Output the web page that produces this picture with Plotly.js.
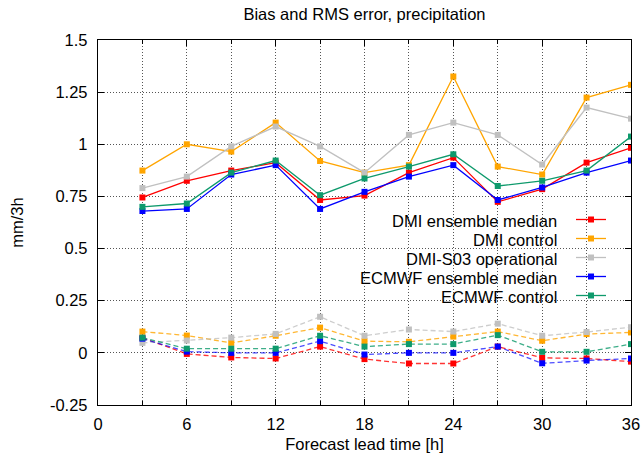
<!DOCTYPE html>
<html><head><meta charset="utf-8">
<script src="https://cdn.plot.ly/plotly-3.0.1.min.js"></script>
<style>html,body{margin:0;padding:0;background:#fff}#chart{width:643px;height:459px}</style>
</head><body><div id="chart"></div>
<script>
// ---- data ----
const leadTime = [3, 6, 9, 12, 15, 18, 21, 24, 27, 30, 33, 36];
const seriesNames = ["DMI ensemble median", "DMI control", "DMI-S03 operational", "ECMWF ensemble median", "ECMWF control"];
// RMS error (solid lines)
const rmsDmiMedian   = [0.745, 0.825, 0.874, 0.912, 0.733, 0.754, 0.864, 0.936, 0.724, 0.785, 0.912, 0.983];
const rmsDmiControl  = [0.874, 1.000, 0.965, 1.104, 0.920, 0.864, 0.900, 1.325, 0.893, 0.855, 1.224, 1.285];
const rmsDmiS03      = [0.790, 0.845, 0.990, 1.085, 0.990, 0.864, 1.045, 1.104, 1.045, 0.903, 1.176, 1.123];
const rmsEcmwfMedian = [0.680, 0.690, 0.855, 0.900, 0.690, 0.772, 0.845, 0.900, 0.733, 0.793, 0.864, 0.922];
const rmsEcmwfControl= [0.700, 0.716, 0.864, 0.922, 0.756, 0.836, 0.893, 0.952, 0.800, 0.825, 0.874, 1.037];
// Bias (dashed lines)
const biasDmiMedian   = [0.072, -0.005, -0.022, -0.027, 0.030, -0.030, -0.051, -0.051, 0.030, -0.024, -0.027, -0.042];
const biasDmiControl  = [0.102, 0.083, 0.048, 0.082, 0.121, 0.056, 0.053, 0.078, 0.102, 0.058, 0.090, 0.098];
const biasDmiS03      = [0.048, 0.059, 0.073, 0.091, 0.173, 0.082, 0.112, 0.102, 0.140, 0.082, 0.100, 0.123];
const biasEcmwfMedian = [0.068, 0.006, 0.000, 0.000, 0.056, -0.008, 0.000, 0.000, 0.030, -0.050, -0.037, -0.027];
const biasEcmwfControl= [0.073, 0.020, 0.020, 0.020, 0.082, 0.030, 0.042, 0.042, 0.085, 0.005, 0.005, 0.042];
const yTickVals = [-0.25, 0, 0.25, 0.5, 0.75, 1, 1.25, 1.5];
const yTickText = ["-0.25", "0", "0.25", "0.5", "0.75", "1", "1.25", "1.5"];

// ---- styles ----
const colors = ["#ff0000", "#ffa500", "#c0c0c0", "#0000ff", "#0e9a6c"];
const dashColors = ["rgba(255,0,0,0.8)", "rgba(255,165,0,0.8)", "rgba(192,192,192,0.8)", "rgba(0,0,255,0.7)", "rgba(14,154,108,0.8)"];
const rmsSeries = [rmsDmiMedian, rmsDmiControl, rmsDmiS03, rmsEcmwfMedian, rmsEcmwfControl];
const biasSeries = [biasDmiMedian, biasDmiControl, biasDmiS03, biasEcmwfMedian, biasEcmwfControl];

const traces = [];
biasSeries.forEach((ys, i) => traces.push({
  x: leadTime, y: ys, type: 'scatter', mode: 'lines+markers', showlegend: false,
  line: {color: dashColors[i], width: 1.3, dash: '5px,3px'},
  marker: {symbol: 'square', size: 6, color: colors[i]}
}));
rmsSeries.forEach((ys, i) => traces.push({
  x: leadTime, y: ys, type: 'scatter', mode: 'lines+markers', name: '', showlegend: true,
  line: {color: colors[i], width: 1.3},
  marker: {symbol: 'square', size: 6, color: colors[i]}
}));

const font = {family: '"Liberation Sans", Arial, sans-serif', size: 16.5, color: '#000'};
const gridStyle = {showgrid: true, gridcolor: '#555', gridwidth: 1, griddash: '1px,2px'};

// legend text as annotations (right aligned, samples on the right as in the original)
const plotTop = 40, plotH = 365, plotL = 98, plotW = 533;
const rowY = [221, 240, 259, 278, 297];
const annotations = seriesNames.map((n, i) => ({
  text: n, xref: 'paper', yref: 'paper', x: (559 - plotL) / plotW, xanchor: 'right',
  y: (plotTop + plotH - rowY[i]) / plotH, yanchor: 'middle', showarrow: false, font: font
}));

const layout = {
  width: 643, height: 459,
  margin: {l: 98, r: 12, t: 40, b: 54},
  paper_bgcolor: '#fff', plot_bgcolor: '#fff',
  font: font,
  title: {text: 'Bias and RMS error, precipitation', font: font, x: 0.5, xref: 'paper', xanchor: 'center', y: 1 - 14 / 459, yanchor: 'middle'},
  xaxis: Object.assign({
    range: [0, 36], tick0: 0, dtick: 6, ticks: 'inside', ticklen: 6, tickcolor: '#000',
    showline: true, linecolor: '#000', linewidth: 1.2, mirror: 'allticks', zeroline: false,
    ticklabelstandoff: 4,
    minor: {dtick: 3, ticks: 'inside', ticklen: 4, tickcolor: '#000', showgrid: true, gridcolor: '#555', gridwidth: 1, griddash: '1px,2px'},
    title: {text: 'Forecast lead time [h]', font: font, standoff: 6}
  }, gridStyle),
  yaxis: Object.assign({
    range: [-0.25, 1.5], tickvals: yTickVals, ticktext: yTickText, ticks: 'inside', ticklen: 6, tickcolor: '#000',
    showline: true, linecolor: '#000', linewidth: 1.2, mirror: 'allticks', zeroline: false,
    ticklabelstandoff: 6,
    title: {text: 'mm/3h', font: font, standoff: 22}
  }, gridStyle),
  showlegend: true,
  legend: {x: (571 - plotL) / plotW, xanchor: 'left', xref: 'paper', y: (plotTop + plotH - 205) / plotH, yanchor: 'top', yref: 'paper',
    bgcolor: 'rgba(0,0,0,0)', borderwidth: 0, font: {family: font.family, size: 12, color: '#000'}, tracegroupgap: 0},
  shapes: [{type: 'rect', xref: 'paper', yref: 'paper', layer: 'between',
    x0: (345 - plotL) / plotW, x1: (622 - plotL) / plotW,
    y0: (plotTop + plotH - 304) / plotH, y1: (plotTop + plotH - 209) / plotH,
    fillcolor: '#fff', line: {width: 0}}],
  annotations: annotations
};

Plotly.newPlot('chart', traces, layout, {displayModeBar: false, staticPlot: true});
</script>
</body></html>
